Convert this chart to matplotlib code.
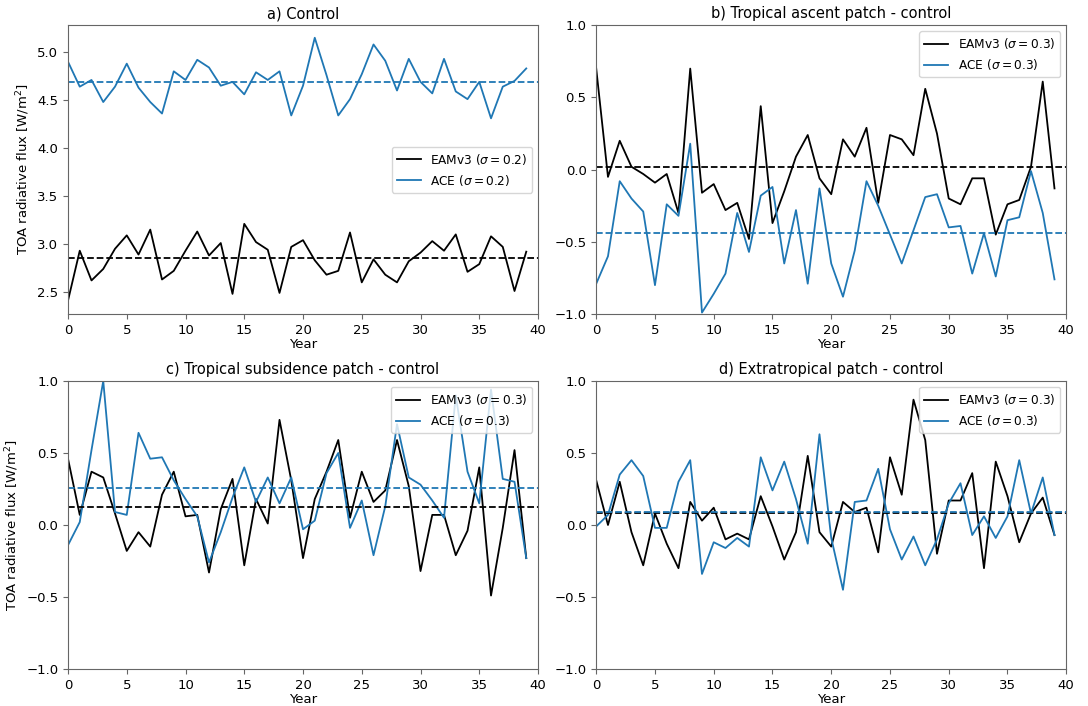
import numpy as np
import matplotlib.pyplot as plt

years = np.arange(40)

# a) Control
eam_a = [2.41, 2.93, 2.62, 2.74, 2.95, 3.09, 2.89, 3.15, 2.63, 2.72,
         2.93, 3.13, 2.88, 3.01, 2.48, 3.21, 3.02, 2.94, 2.49, 2.97,
         3.04, 2.83, 2.68, 2.72, 3.12, 2.60, 2.84, 2.68, 2.60, 2.82,
         2.91, 3.03, 2.93, 3.10, 2.71, 2.79, 3.08, 2.97, 2.51, 2.92]
ace_a = [4.90, 4.64, 4.71, 4.48, 4.64, 4.88, 4.63, 4.48, 4.36, 4.80,
         4.71, 4.92, 4.84, 4.65, 4.69, 4.56, 4.79, 4.71, 4.80, 4.34,
         4.65, 5.15, 4.76, 4.34, 4.51, 4.77, 5.08, 4.91, 4.60, 4.93,
         4.69, 4.57, 4.93, 4.59, 4.51, 4.69, 4.31, 4.64, 4.70, 4.83]

# b) Tropical ascent patch - control
eam_b = [0.70, -0.05, 0.20, 0.02, -0.03, -0.09, -0.03, -0.30, 0.70, -0.16,
         -0.10, -0.28, -0.23, -0.48, 0.44, -0.37, -0.15, 0.09, 0.24, -0.06,
         -0.17, 0.21, 0.09, 0.29, -0.23, 0.24, 0.21, 0.10, 0.56, 0.25,
         -0.20, -0.24, -0.06, -0.06, -0.45, -0.24, -0.21, 0.02, 0.61, -0.13]
ace_b = [-0.79, -0.60, -0.08, -0.20, -0.29, -0.80, -0.24, -0.32, 0.18, -0.99,
         -0.86, -0.72, -0.30, -0.57, -0.18, -0.12, -0.65, -0.28, -0.79, -0.13,
         -0.65, -0.88, -0.56, -0.08, -0.25, -0.45, -0.65, -0.42, -0.19, -0.17,
         -0.40, -0.39, -0.72, -0.44, -0.74, -0.35, -0.33, -0.01, -0.30, -0.76]

# c) Tropical subsidence patch - control
eam_c = [0.46, 0.07, 0.37, 0.33, 0.08, -0.18, -0.05, -0.15, 0.21, 0.37,
         0.06, 0.07, -0.33, 0.11, 0.32, -0.28, 0.18, 0.01, 0.73, 0.31,
         -0.23, 0.18, 0.37, 0.59, 0.05, 0.37, 0.16, 0.24, 0.59, 0.27,
         -0.32, 0.07, 0.07, -0.21, -0.04, 0.40, -0.49, -0.02, 0.52, -0.23]
ace_c = [-0.14, 0.02, 0.52, 1.00, 0.09, 0.07, 0.64, 0.46, 0.47, 0.31,
         0.18, 0.06, -0.26, -0.05, 0.19, 0.40, 0.16, 0.33, 0.15, 0.33,
         -0.03, 0.03, 0.36, 0.50, -0.02, 0.17, -0.21, 0.13, 0.70, 0.33,
         0.28, 0.17, 0.05, 0.90, 0.37, 0.15, 0.94, 0.32, 0.30, -0.23]

# d) Extratropical patch - control
eam_d = [0.31, 0.00, 0.30, -0.05, -0.28, 0.08, -0.13, -0.30, 0.16, 0.03,
         0.12, -0.10, -0.06, -0.10, 0.20, -0.01, -0.24, -0.05, 0.48, -0.05,
         -0.15, 0.16, 0.09, 0.12, -0.19, 0.47, 0.21, 0.87, 0.59, -0.20,
         0.17, 0.17, 0.36, -0.30, 0.44, 0.20, -0.12, 0.08, 0.19, -0.07]
ace_d = [-0.01, 0.07, 0.35, 0.45, 0.34, -0.02, -0.02, 0.30, 0.45, -0.34,
         -0.12, -0.16, -0.09, -0.15, 0.47, 0.24, 0.44, 0.18, -0.13, 0.63,
         -0.09, -0.45, 0.16, 0.17, 0.39, -0.03, -0.24, -0.08, -0.28, -0.10,
         0.15, 0.29, -0.07, 0.06, -0.09, 0.06, 0.45, 0.08, 0.33, -0.07]

titles = ['a) Control', 'b) Tropical ascent patch - control',
          'c) Tropical subsidence patch - control', 'd) Extratropical patch - control']
sigmas = [0.2, 0.3, 0.3, 0.3]
legend_locs = ['center right', 'upper right', 'upper right', 'upper right']
series = [(eam_a, ace_a), (eam_b, ace_b), (eam_c, ace_c), (eam_d, ace_d)]

plt.rcParams['axes.edgecolor'] = '0.4'
plt.rcParams['xtick.color'] = '0.4'
plt.rcParams['ytick.color'] = '0.4'
plt.rcParams['xtick.labelcolor'] = 'k'
plt.rcParams['ytick.labelcolor'] = 'k'

fig = plt.figure(figsize=(10.88, 7.06), dpi=100)
positions = [[0.0625, 0.5552, 0.432, 0.409], [0.548, 0.5552, 0.432, 0.409],
             [0.0625, 0.0524, 0.432, 0.408], [0.548, 0.0524, 0.432, 0.408]]

for i in range(4):
    ax = fig.add_axes(positions[i])
    eam, ace = series[i]
    s = sigmas[i]
    ax.plot(years, eam, color='k', lw=1.3, label=r'EAMv3 ($\sigma = %.1f$)' % s)
    ax.plot(years, ace, color='tab:blue', lw=1.3, label=r'ACE ($\sigma = %.1f$)' % s)
    ax.axhline(np.mean(eam), color='k', ls='--', lw=1.3)
    ax.axhline(np.mean(ace), color='tab:blue', ls='--', lw=1.3)
    ax.set_xlim(0, 40)
    ax.set_xticks(range(0, 41, 5))
    if i == 0:
        ax.set_ylim(2.27, 5.28)
    else:
        ax.set_ylim(-1, 1)
        ax.set_yticks([-1.0, -0.5, 0.0, 0.5, 1.0])
    ax.set_title(titles[i], fontsize=10.5, pad=5)
    ax.set_xlabel('Year', fontsize=9.5, labelpad=1)
    if i in (0, 2):
        ax.set_ylabel('TOA radiative flux [W/m$^2$]', fontsize=9.5)
    ax.tick_params(labelsize=9.5)
    ax.legend(loc=legend_locs[i], fontsize=8.7)

fig.savefig('out.png', dpi=100)
